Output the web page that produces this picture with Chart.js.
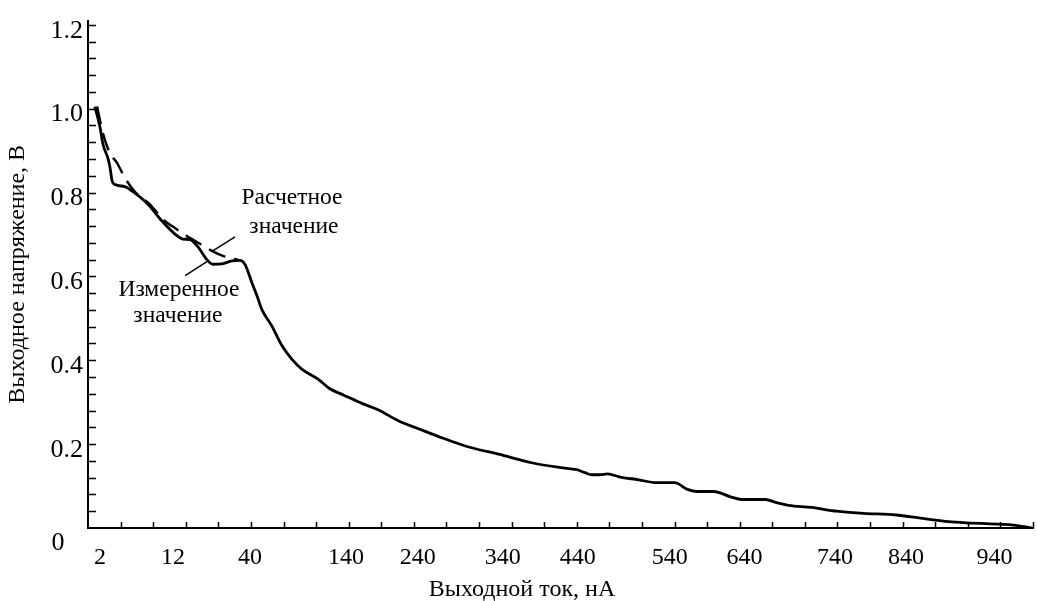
<!DOCTYPE html>
<html>
<head>
<meta charset="utf-8">
<script src="https://cdn.jsdelivr.net/npm/chart.js@4"></script>
<style>
  body { margin: 0; background: #fff; }
  #wrap { width: 1037px; height: 601px; }
</style>
</head>
<body>
<div id="wrap"><canvas id="myChart"></canvas></div>
<script>
// ось X: равномерная шкала (29 делений), подписи стоят не на делениях
var tickLabels = ['2', '12', '40', '140', '240', '340', '440', '540', '640', '740', '840', '940'];
var tickPos = [0.37, 2.61, 4.97, 7.92, 10.12, 12.73, 15.03, 17.85, 20.15, 22.92, 25.1, 27.82];
// ось Y
var yTickValues = [0.2, 0.4, 0.6, 0.8, 1.0, 1.2];

// измеренное значение
var measX = [0.21, 0.37, 0.46, 0.61, 0.67, 0.74, 0.83, 1.13, 1.38, 1.84, 2.27, 2.67, 2.91, 3.13, 3.37, 3.65, 3.83, 4.11, 4.42, 4.66, 4.82, 5.03, 5.18, 5.34, 5.64, 5.95, 6.26, 6.56, 7.06, 7.42, 7.82, 8.44, 8.9, 9.57, 10.1, 10.9, 11.6, 12.6, 13.65, 14.5, 15.0, 15.25, 15.46, 15.7, 15.95, 16.3, 16.9, 17.45, 18.0, 18.4, 18.7, 19.2, 19.7, 20.06, 20.8, 21.1, 21.5, 22.2, 22.98, 23.8, 24.8, 25.5, 26.3, 27.9, 28.4, 28.96];
var measY = [1.005, 0.955, 0.915, 0.882, 0.862, 0.828, 0.819, 0.814, 0.802, 0.772, 0.732, 0.701, 0.689, 0.688, 0.671, 0.640, 0.629, 0.630, 0.637, 0.638, 0.628, 0.585, 0.555, 0.520, 0.482, 0.435, 0.402, 0.379, 0.355, 0.332, 0.318, 0.296, 0.282, 0.254, 0.238, 0.214, 0.195, 0.176, 0.155, 0.144, 0.139, 0.132, 0.127, 0.127, 0.129, 0.122, 0.115, 0.108, 0.108, 0.092, 0.087, 0.087, 0.075, 0.068, 0.068, 0.061, 0.054, 0.049, 0.040, 0.035, 0.031, 0.024, 0.016, 0.009, 0.007, 0.0];

// расчетное значение
var calcX = [0.28, 0.46, 0.67, 0.89, 1.13, 1.44, 1.9, 2.3, 2.58, 3.04, 3.28, 3.8, 4.14, 4.66];
var calcY = [1.005, 0.941, 0.894, 0.871, 0.835, 0.802, 0.772, 0.736, 0.72, 0.696, 0.685, 0.661, 0.649, 0.638];

// выноски к подписям
var leaderCalcX = [3.83, 4.51];
var leaderCalcY = [0.661, 0.694];
var leaderMeasX = [2.98, 3.65];
var leaderMeasY = [0.602, 0.635];

function toPoints(xs, ys) {
	var pts = [];
	for (var i = 0; i < xs.length; i++) {
		pts.push({ x: xs[i], y: ys[i] });
	}
	return pts;
}

var FONT = '"Liberation Serif", "Times New Roman", serif';

// подписи кривых (в единицах осей)
var notes = [
	{ text: 'Расчетное', x: 6.26, y: 0.788 },
	{ text: 'значение', x: 6.32, y: 0.718 },
	{ text: 'Измеренное', x: 2.79, y: 0.567 },
	{ text: 'значение', x: 2.76, y: 0.506 }
];

// деления внутрь области, подписи, "0" и название оси X
var extrasPlugin = {
	id: 'extras',
	afterDraw: function (chart) {
		var ctx = chart.ctx;
		var xs = chart.scales.x;
		var ys = chart.scales.y;
		var area = chart.chartArea;
		ctx.save();
		ctx.strokeStyle = '#000';
		ctx.lineWidth = 1.5;
		ctx.beginPath();
		for (var k = 1; k <= 29; k++) {
			var px = Math.round(xs.getPixelForValue(k)) + 0.5;
			ctx.moveTo(px, area.bottom);
			ctx.lineTo(px, area.bottom - 6);
		}
		for (var j = 1; j <= 30; j++) {
			var py = Math.round(ys.getPixelForValue(j * 0.04)) + 0.5;
			ctx.moveTo(area.left, py);
			ctx.lineTo(area.left + 8, py);
		}
		ctx.stroke();

		ctx.fillStyle = '#000';
		ctx.textAlign = 'center';
		ctx.textBaseline = 'middle';
		ctx.font = '23.5px ' + FONT;
		notes.forEach(function (n) {
			ctx.fillText(n.text, xs.getPixelForValue(n.x), ys.getPixelForValue(n.y));
		});

		ctx.font = '26px ' + FONT;
		ctx.fillText('0', area.left - 30, area.bottom + 15);

		ctx.font = '24px ' + FONT;
		ctx.fillText('Выходной ток, нА', 522, 590);
		ctx.restore();
	}
};

const ctx = document.getElementById('myChart').getContext('2d');
const myChart = new Chart(ctx, {
	type: 'line',
	data: {
		datasets: [{
			label: 'Измеренное значение',
			data: toPoints(measX, measY),
			borderColor: '#000',
			borderWidth: 2.8,
			pointRadius: 0,
			cubicInterpolationMode: 'monotone',
			fill: false
		}, {
			label: 'Расчетное значение',
			data: toPoints(calcX, calcY),
			borderColor: '#000',
			borderWidth: 2.4,
			borderDash: [18, 9],
			pointRadius: 0,
			cubicInterpolationMode: 'monotone',
			fill: false
		}, {
			label: 'leader1',
			data: toPoints(leaderCalcX, leaderCalcY),
			borderColor: '#000',
			borderWidth: 1.5,
			pointRadius: 0,
			fill: false
		}, {
			label: 'leader2',
			data: toPoints(leaderMeasX, leaderMeasY),
			borderColor: '#000',
			borderWidth: 1.5,
			pointRadius: 0,
			fill: false
		}]
	},
	options: {
		responsive: true,
		maintainAspectRatio: false,
		animation: false,
		layout: {
			padding: { top: 15, right: 4, left: 0, bottom: 0 }
		},
		plugins: {
			legend: { display: false },
			tooltip: { enabled: false }
		},
		scales: {
			x: {
				type: 'linear',
				min: 0,
				max: 29,
				afterBuildTicks: function (scale) {
					scale.ticks = tickPos.map(function (v) { return { value: v }; });
				},
				afterFit: function (scale) {
					scale.height = 73;
				},
				grid: { display: false, drawTicks: false },
				border: { display: true, color: '#000', width: 2 },
				ticks: {
					autoSkip: false,
					maxRotation: 0,
					padding: 15,
					color: '#000',
					font: { family: FONT, size: 24 },
					callback: function (value, index) {
						return tickLabels[index];
					}
				}
			},
			y: {
				type: 'linear',
				min: 0,
				max: 1.21,
				afterBuildTicks: function (scale) {
					scale.ticks = yTickValues.map(function (v) { return { value: v }; });
				},
				afterFit: function (scale) {
					scale.width = 88;
				},
				grid: { display: false, drawTicks: false },
				border: { display: true, color: '#000', width: 2 },
				ticks: {
					autoSkip: false,
					padding: 5,
					labelOffset: 6,
					color: '#000',
					font: { family: FONT, size: 26 },
					callback: function (value) {
						return value.toFixed(1);
					}
				},
				title: {
					display: true,
					text: 'Выходное напряжение, В',
					color: '#000',
					font: { family: FONT, size: 24 },
					padding: { top: 3, bottom: 0 }
				}
			}
		}
	},
	plugins: [extrasPlugin]
});
</script>
</body>
</html>
